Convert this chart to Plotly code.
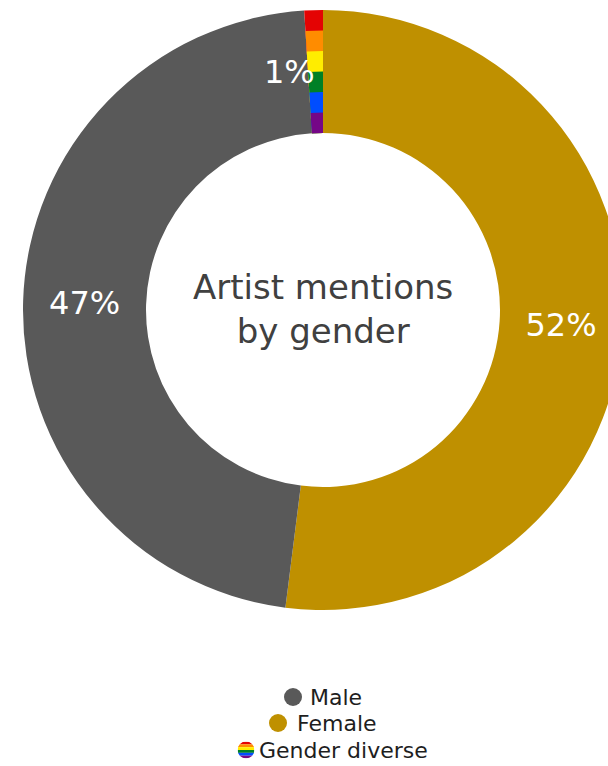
import base64
import math
import plotly.graph_objects as go

# ---- data -------------------------------------------------------------
labels = ["Female", "Male", "Gender diverse"]
shares = [52, 47, 1]

# ---- styling ------------------------------------------------------------
FEMALE = "#BF9000"
MALE = "#595959"
PRIDE = ["#E40303", "#FF8C00", "#FFED00", "#008026", "#004DFF", "#750787"]
FONT = "DejaVu Sans"

# figure geometry (pixels)
FIG_W, FIG_H = 646, 766
M_L, M_R, M_T, M_B = 23, 23, 10, 156
PLOT_W = FIG_W - M_L - M_R          # 600
PLOT_H = FIG_H - M_T - M_B          # 600
HOLE = 0.59
R_OUT = PLOT_W / 2                  # 300 px


def px_x(x):
    return (x - M_L) / PLOT_W


def px_y(y):
    return (FIG_H - M_B - y) / PLOT_H


fig = go.Figure()

# main ring: female, male, gender diverse (first pride stripe)
fig.add_trace(go.Pie(
    labels=labels,
    values=shares,
    sort=False,
    direction="clockwise",
    rotation=0,
    hole=HOLE,
    marker=dict(colors=[FEMALE, MALE, PRIDE[0]], line=dict(width=0)),
    texttemplate=["%{percent:.0%}", "%{percent:.0%}", ""],
    textposition=["inside", "inside", "none"],
    insidetextorientation="horizontal",
    insidetextfont=dict(family=FONT, size=32, color="white"),
    domain=dict(x=[0, 1], y=[0, 1]),
    showlegend=False,
    hoverinfo="label+percent",
))

# remaining pride stripes: concentric rings that only paint the diverse slice
r_in = HOLE * R_OUT
band = (R_OUT - r_in) / len(PRIDE)
for k, colour in enumerate(PRIDE[1:], start=1):
    r_k = R_OUT - k * band
    half = r_k / PLOT_W
    fig.add_trace(go.Pie(
        labels=labels,
        values=shares,
        sort=False,
        direction="clockwise",
        rotation=0,
        hole=r_in / r_k,
        marker=dict(colors=["rgba(0,0,0,0)", "rgba(0,0,0,0)", colour],
                    line=dict(width=0)),
        textinfo="none",
        domain=dict(x=[0.5 - half, 0.5 + half], y=[0.5 - half, 0.5 + half]),
        showlegend=False,
        hoverinfo="skip",
    ))

annotations = []

# label for the small slice, placed just left of it at mid-ring radius
total = sum(shares)
mid_angle = 2 * math.pi * (sum(shares[:2]) + shares[2] / 2) / total
r_mid = (1 + HOLE) / 2 * 0.5
annotations.append(dict(
    x=0.5 + r_mid * math.sin(mid_angle),
    y=0.5 + r_mid * math.cos(mid_angle),
    xref="paper", yref="paper",
    text=f"{shares[2] / total:.0%}",
    showarrow=False, xanchor="right", yanchor="middle", xshift=1,
    font=dict(family=FONT, size=32, color="white"),
))

# centre title
annotations.append(dict(
    x=0.5, y=px_y(309), xref="paper", yref="paper",
    text="Artist mentions<br>by gender", showarrow=False,
    xanchor="center", yanchor="middle", align="center",
    font=dict(family=FONT, size=34, color="#404040"),
))

# legend (drawn manually so the entries are centred under the ring)
legend_rows = [
    ("Male", MALE, 293, 697, 308),
    ("Female", FEMALE, 278, 723, 295),
    ("Gender diverse", None, 246, 750, 257),
]
shapes = []
images = []
DOT = 18
for name, colour, cx, cy, tx in legend_rows:
    if colour is not None:
        shapes.append(dict(
            type="circle", xref="paper", yref="paper",
            x0=px_x(cx - DOT / 2), x1=px_x(cx + DOT / 2),
            y0=px_y(cy + DOT / 2), y1=px_y(cy - DOT / 2),
            fillcolor=colour, line=dict(width=0),
        ))
    else:
        rects = "".join(
            f"<rect x='0' y='{i}' width='6' height='1' fill='{c}'/>"
            for i, c in enumerate(PRIDE)
        )
        svg = (
            "<svg xmlns='http://www.w3.org/2000/svg' width='60' height='60' "
            "viewBox='0 0 6 6'><clipPath id='d'><circle cx='3' cy='3' r='3'/>"
            f"</clipPath><g clip-path='url(#d)'>{rects}</g></svg>"
        )
        src = "data:image/svg+xml;base64," + base64.b64encode(svg.encode()).decode()
        images.append(dict(
            source=src, xref="paper", yref="paper",
            x=px_x(cx), y=px_y(cy), sizex=(DOT - 1) / PLOT_W, sizey=(DOT - 1) / PLOT_H,
            xanchor="center", yanchor="middle", sizing="stretch", layer="above",
        ))
    annotations.append(dict(
        x=px_x(tx), y=px_y(cy), xref="paper", yref="paper",
        text=name, showarrow=False, xanchor="left", yanchor="middle",
        font=dict(family=FONT, size=22, color="#1e1e1e"),
    ))

fig.update_layout(
    width=FIG_W, height=FIG_H,
    margin=dict(l=M_L, r=M_R, t=M_T, b=M_B, pad=0),
    paper_bgcolor="white",
    plot_bgcolor="white",
    showlegend=False,
    annotations=annotations,
    shapes=shapes,
    images=images,
)

fig.write_html(
    "out.html",
    post_script=(
        "document.documentElement.style.overflow='hidden';"
        "document.body.style.overflow='hidden';"
        "document.body.style.margin='0';"
    ),
)
